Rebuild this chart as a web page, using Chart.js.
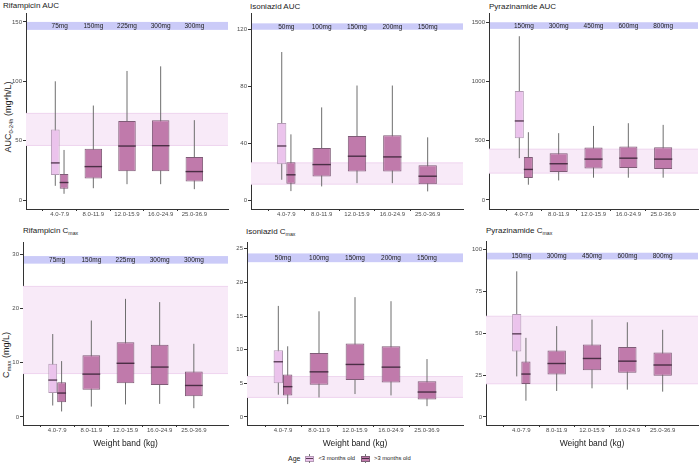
<!DOCTYPE html>
<html>
<head>
<meta charset="utf-8">
<script src="https://cdn.jsdelivr.net/npm/chart.js@4.4.1/dist/chart.umd.min.js"></script>
<style>
  body { margin: 0; background: #fff; }
  #wrap { position: relative; width: 700px; height: 464px; overflow: hidden; font-family: 'Liberation Sans', Arial, sans-serif; color: #1a1a1a; }
  canvas { position: absolute; }
  .title { position: absolute; font-size: 8px; line-height: 10px; white-space: nowrap; }
  .ytitle { position: absolute; width: 200px; text-align: center; font-size: 9px; line-height: 10px; white-space: nowrap; transform: rotate(-90deg); }
  sub { font-size: 65%; vertical-align: -2px; line-height: 0; }
  .legend { position: absolute; left: 288px; top: 453px; height: 10px; display: flex; align-items: center; font-size: 5.8px; white-space: nowrap; }
  .legend .lab { font-size: 7px; margin-right: 5px; }
  .key { position: relative; width: 9px; height: 9px; margin-right: 4px; }
  .key .box { position: absolute; left: 0; top: 2px; width: 7px; height: 4px; border: 1px solid; }
  .key .med { position: absolute; left: 1px; top: 4px; width: 7px; height: 1px; }
  .key .wh { position: absolute; left: 4px; width: 1px; height: 2px; background: #777; }
  .legend .txt { margin-right: 6px; }
</style>
</head>
<body>
<div id="wrap">
  <div class="title" style="left:3px;top:1px">Rifampicin AUC</div>
  <div class="title" style="left:250px;top:2px">Isoniazid AUC</div>
  <div class="title" style="left:489px;top:2px">Pyrazinamide AUC</div>
  <div class="title" style="left:23px;top:226px">Rifampicin C<sub>max</sub></div>
  <div class="title" style="left:246px;top:227px">Isoniazid C<sub>max</sub></div>
  <div class="title" style="left:486px;top:226px">Pyrazinamide C<sub>max</sub></div>
  <div class="ytitle" style="left:-92px;top:112px">AUC<sub>0-24h</sub> (mg*h/L)</div>
  <div class="ytitle" style="left:-94px;top:350px">C<sub>max</sub> (mg/L)</div>

  <canvas id="c1" width="232" height="221" style="left:0;top:0"></canvas>
  <canvas id="c2" width="232" height="221" style="left:232px;top:0"></canvas>
  <canvas id="c3" width="236" height="221" style="left:464px;top:0"></canvas>
  <canvas id="c4" width="232" height="228" style="left:0;top:222px"></canvas>
  <canvas id="c5" width="232" height="228" style="left:232px;top:222px"></canvas>
  <canvas id="c6" width="236" height="228" style="left:464px;top:222px"></canvas>

  <div class="legend">
    <span class="lab">Age</span>
    <span class="key"><span class="wh" style="top:0"></span><span class="box" style="background:#ebc3ec;border-color:#b39ab5"></span><span class="med" style="background:#5b3f58"></span><span class="wh" style="top:7px"></span></span>
    <span class="txt">&lt;3 months old</span>
    <span class="key"><span class="wh" style="top:0"></span><span class="box" style="background:#c07aab;border-color:#7f5c77"></span><span class="med" style="background:#4a2e45"></span><span class="wh" style="top:7px"></span></span>
    <span class="txt">&gt;3 months old</span>
  </div>
</div>

<script>
const weightBands = ["4.0-7.9", "8.0-11.9", "12.0-15.9", "16.0-24.9", "25.0-36.9"];

// each box: [min, q1, median, q3, max]
// Rifampicin AUC
const rifAucYoung = [12, 21.2, 31.3, 59.5, 100];
const rifAucOlder = [[5.3, 9.5, 14.8, 22, 42.2], [10, 18.2, 28.2, 43.3, 79.6], [13.4, 24.3, 45.5, 66.5, 108.7], [13.4, 24.3, 45.8, 67.3, 112.6], [9.2, 15.6, 24, 36.3, 67.3]];
const rifAucTarget = [46, 73];
const rifAucDoseBand = [143.3, 150];
const rifAucTicks = [0, 50, 100, 150];

// Isoniazid AUC
const inhAucYoung = [14.3, 25.3, 38.1, 54.3, 104.3];
const inhAucOlder = [[6.3, 11.5, 17.8, 26.7, 46.3], [9.6, 16.6, 25, 36.7, 65.3], [11.9, 20.1, 30.9, 45.1, 80.7], [11.9, 20.1, 30.4, 45.6, 80.7], [6.1, 11.2, 16.8, 24.6, 44.2]];
const inhAucTarget = [11.2, 26.2];
const inhAucDoseBand = [120, 124.5];
const inhAucTicks = [0, 40, 80, 120];

// Pyrazinamide AUC
const pzaAucYoung = [353, 521, 667, 920, 1382];
const pzaAucOlder = [[129, 185, 258, 362, 572], [165, 236, 306, 395, 564], [188, 266, 345, 443, 625], [188, 269, 353, 451, 648], [188, 261, 345, 446, 634]];
const pzaAucTarget = [227, 429];
const pzaAucDoseBand = [1444, 1500];
const pzaAucTicks = [0, 500, 1000, 1500];

// Rifampicin Cmax
const rifCmaxYoung = [2.1, 4.4, 6.8, 9.8, 15.3];
const rifCmaxOlder = [[1.0, 2.7, 4.4, 6.4, 10.3], [1.9, 5.0, 7.9, 11.4, 17.8], [2.3, 6.2, 9.9, 13.8, 21.8], [2.4, 5.9, 9.2, 13.3, 21.2], [1.6, 3.8, 5.8, 8.4, 13.5]];
const rifCmaxTarget = [8, 24.1];
const rifCmaxDoseBand = [28.3, 29.7];
const rifCmaxTicks = [0, 10, 20, 30];

// Isoniazid Cmax
const inhCmaxYoung = [3.3, 5.0, 8.2, 9.9, 16.5];
const inhCmaxOlder = [[1.9, 3.2, 4.5, 6.3, 10.5], [2.9, 4.8, 6.7, 9.5, 15.7], [3.4, 5.5, 7.8, 10.9, 17.8], [3.2, 5.1, 7.4, 10.5, 17.2], [1.6, 2.6, 3.7, 5.3, 8.6]];
const inhCmaxTarget = [2.9, 6.0];
const inhCmaxDoseBand = [23.0, 24.3];
const inhCmaxTicks = [0, 5, 10, 15, 20, 25];

// Pyrazinamide Cmax
const pzaCmaxYoung = [24.2, 39.1, 49.6, 61.5, 86.9];
const pzaCmaxOlder = [[9.7, 19.6, 25.6, 33.1, 47.2], [15.5, 25.4, 31.9, 39.7, 54.2], [17.1, 27.8, 34.9, 43.3, 58.1], [16.3, 26.4, 33.3, 41.7, 56.5], [15.1, 24.6, 31, 38.5, 52]];
const pzaCmaxTarget = [19.8, 60.1];
const pzaCmaxDoseBand = [94, 98];
const pzaCmaxTicks = [0, 25, 50, 75, 100];

// doses per weight band
const rifDoses = ["75mg", "150mg", "225mg", "300mg", "300mg"];
const inhDoses = ["50mg", "100mg", "150mg", "200mg", "150mg"];
const pzaDoses = ["150mg", "300mg", "450mg", "600mg", "800mg"];

Chart.defaults.font.family = "'Liberation Sans', Arial, sans-serif";

// empty slot at each end so the bands sit one unit in from the axis ends
const slots = ["", ...weightBands, ""];

const boxPlugin = {
  id: "boxes",
  beforeDatasetsDraw(chart) {
    const { ctx, chartArea: a, scales: { x, y } } = chart;
    const o = chart.options.plugins.boxes;
    ctx.save();
    // target range
    const t0 = y.getPixelForValue(o.target[0]), t1 = y.getPixelForValue(o.target[1]);
    ctx.fillStyle = "#f8eaf8";
    ctx.fillRect(a.left, t1, a.right - a.left, t0 - t1);
    ctx.strokeStyle = "#efd5ef";
    ctx.lineWidth = 1;
    ctx.beginPath();
    ctx.moveTo(a.left, t0); ctx.lineTo(a.right, t0);
    ctx.moveTo(a.left, t1); ctx.lineTo(a.right, t1);
    ctx.stroke();
    // dose band
    const d0 = y.getPixelForValue(o.dose[0]), d1 = y.getPixelForValue(o.dose[1]);
    ctx.fillStyle = "#cbcbf8";
    ctx.fillRect(a.left + 1, d1, a.right - a.left - 1, d0 - d1);
    ctx.fillStyle = "#222";
    ctx.font = "6.5px 'Liberation Sans', Arial, sans-serif";
    ctx.textAlign = "center";
    ctx.textBaseline = "middle";
    o.doses.forEach((d, i) => ctx.fillText(d, x.getPixelForValue(i + 1), (d0 + d1) / 2 + 0.5));
    // whiskers
    ctx.strokeStyle = "#6e6e6e";
    chart.data.datasets.forEach((ds, di) => {
      chart.getDatasetMeta(di).data.forEach((bar, i) => {
        const s = ds.stats[i];
        if (!s) return;
        ctx.beginPath();
        ctx.moveTo(bar.x, y.getPixelForValue(s[0]));
        ctx.lineTo(bar.x, y.getPixelForValue(s[4]));
        ctx.stroke();
      });
    });
    ctx.restore();
  },
  afterDatasetsDraw(chart) {
    const { ctx, scales: { y } } = chart;
    ctx.save();
    ctx.lineWidth = 1.4;
    chart.data.datasets.forEach((ds, di) => {
      ctx.strokeStyle = ds.medianColor;
      chart.getDatasetMeta(di).data.forEach((bar, i) => {
        const s = ds.stats[i];
        if (!s) return;
        const py = y.getPixelForValue(s[2]);
        ctx.beginPath();
        ctx.moveTo(bar.x - bar.width / 2, py);
        ctx.lineTo(bar.x + bar.width / 2, py);
        ctx.stroke();
      });
    });
    ctx.restore();
  }
};

function makePanel(id, young, older, target, doseBand, doses, ticks, p) {
  const youngData = slots.map((s, i) => i === 1 ? [young[1], young[3]] : null);
  const youngStats = slots.map((s, i) => i === 1 ? young : null);
  const olderData = [null, ...older.map(b => [b[1], b[3]]), null];
  const olderStats = [null, ...older, null];

  new Chart(document.getElementById(id), {
    type: "bar",
    data: {
      labels: slots,
      datasets: [
        { label: "<3 months old", data: youngData, stats: youngStats, backgroundColor: "#ebc3ec", borderColor: "#b39ab5", medianColor: "#5b3f58" },
        { label: ">3 months old", data: olderData, stats: olderStats, backgroundColor: "#c07aab", borderColor: "#7f5c77", medianColor: "#4a2e45" }
      ]
    },
    options: {
      responsive: false,
      animation: false,
      layout: { padding: { top: p.top, right: p.right, left: 0, bottom: 0 } },
      datasets: {
        bar: { categoryPercentage: 0.52, barPercentage: 1, borderWidth: 1, borderSkipped: false, skipNull: true }
      },
      plugins: {
        legend: { display: false },
        tooltip: { enabled: false },
        boxes: { target: target, dose: doseBand, doses: doses }
      },
      scales: {
        x: {
          offset: false,
          grid: { drawOnChartArea: false, tickLength: 2, tickColor: c => (c.index === 0 || c.index === slots.length - 1) ? "rgba(0,0,0,0)" : "#333" },
          border: { color: "#333", width: 1 },
          ticks: { autoSkip: false, maxRotation: 0, padding: 0, color: "#4d4d4d", font: { size: 6 } },
          title: { display: p.xTitle, text: "Weight band (kg)", color: "#1a1a1a", font: { size: 8.5 }, padding: { top: 0, bottom: 1 } },
          afterFit: s => { s.height = p.xh; }
        },
        y: {
          min: p.min,
          max: p.max,
          afterBuildTicks: s => { s.ticks = ticks.map(v => ({ value: v })); },
          grid: { drawOnChartArea: false, tickLength: 3, tickColor: "#333" },
          border: { color: "#333", width: 1 },
          ticks: { padding: 1, color: "#4d4d4d", font: { size: 6 }, callback: v => String(v) },
          afterFit: s => { s.width = p.yw; }
        }
      }
    },
    plugins: [boxPlugin]
  });
}

makePanel("c1", rifAucYoung, rifAucOlder, rifAucTarget, rifAucDoseBand, rifDoses, rifAucTicks,
  { top: 13, right: 4, yw: 26, xh: 12, min: -7.5, max: 157.5, xTitle: false });
makePanel("c2", inhAucYoung, inhAucOlder, inhAucTarget, inhAucDoseBand, inhDoses, inhAucTicks,
  { top: 13, right: 1, yw: 19, xh: 12, min: -6.3, max: 131.8, xTitle: false });
makePanel("c3", pzaAucYoung, pzaAucOlder, pzaAucTarget, pzaAucDoseBand, pzaDoses, pzaAucTicks,
  { top: 13, right: 2, yw: 25, xh: 12, min: -76, max: 1578, xTitle: false });
makePanel("c4", rifCmaxYoung, rifCmaxOlder, rifCmaxTarget, rifCmaxDoseBand, rifDoses, rifCmaxTicks,
  { top: 20, right: 4, yw: 23, xh: 25, min: -1.5, max: 32.3, xTitle: true });
makePanel("c5", inhCmaxYoung, inhCmaxOlder, inhCmaxTarget, inhCmaxDoseBand, inhDoses, inhCmaxTicks,
  { top: 20, right: 1, yw: 15, xh: 25, min: -1.2, max: 26.0, xTitle: true });
makePanel("c6", pzaCmaxYoung, pzaCmaxOlder, pzaCmaxTarget, pzaCmaxDoseBand, pzaDoses, pzaCmaxTicks,
  { top: 19, right: 2, yw: 22, xh: 25, min: -4.8, max: 105, xTitle: true });
</script>
</body>
</html>
